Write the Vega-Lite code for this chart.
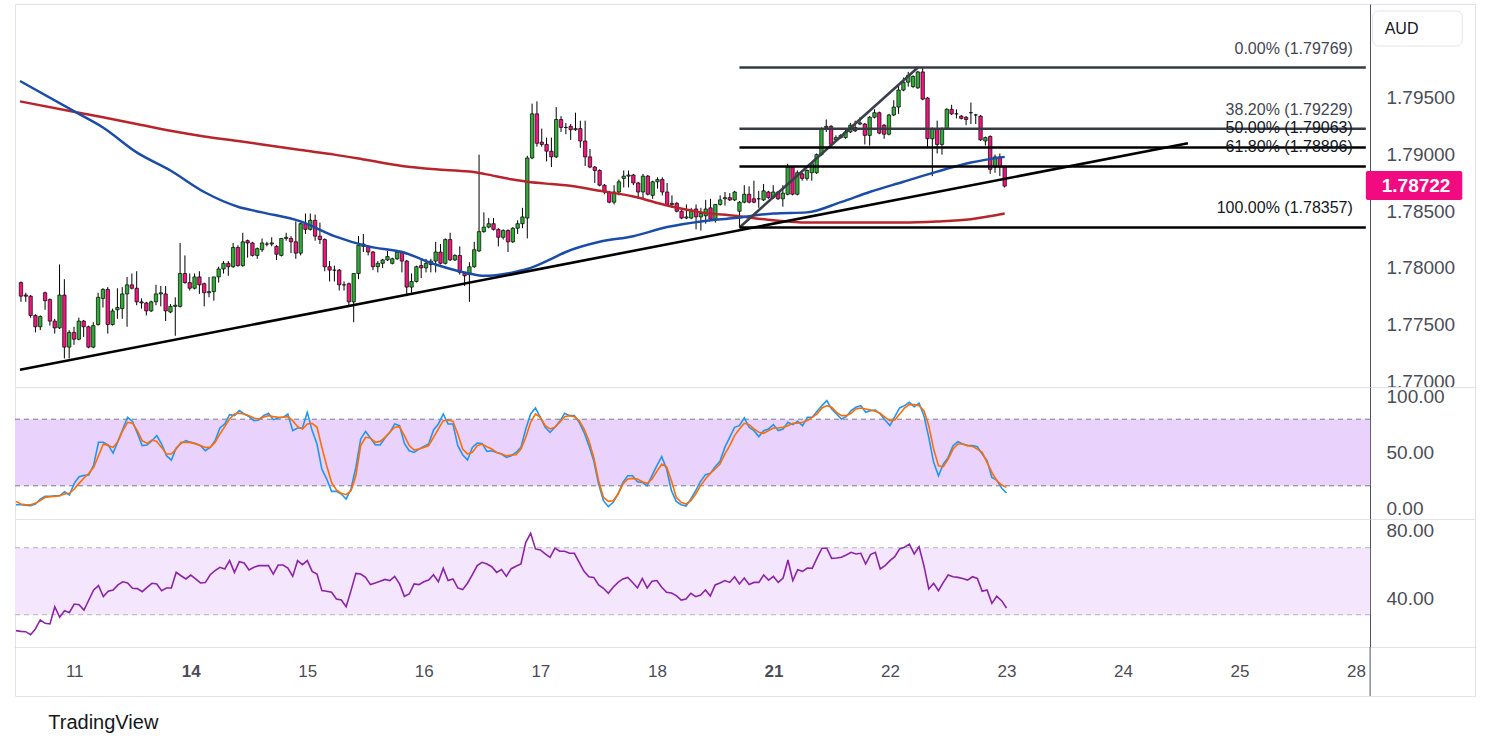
{
  "$schema": "https://vega.github.io/schema/vega-lite/v6.json",
  "background": "white",
  "padding": {"left": 12, "top": 3, "right": 10, "bottom": 10},
  "title": {"text": "TradingView", "orient": "bottom", "anchor": "start", "dx": 36, "offset": 16, "fontSize": 20, "fontWeight": "normal", "color": "#131722", "font": "Liberation Sans"},
  "spacing": 0,
  "bounds": "flush",
  "resolve": {"scale": {"x": "independent", "y": "independent"}},
  "datasets": {
    "c": [
      {"i":0,"o":1.7787,"h":1.7788,"l":1.7770,"c":1.7775,"k":3,"d":6,"r":20.5},
      {"i":1,"o":1.7776,"h":1.7778,"l":1.7770,"c":1.7775,"k":3,"d":3.6,"r":20.1},
      {"i":2,"o":1.7775,"h":1.7776,"l":1.7756,"c":1.7758,"k":2.5,"d":3,"r":19.9},
      {"i":3,"o":1.7758,"h":1.7759,"l":1.7743,"c":1.7748,"k":2,"d":3,"r":18.1},
      {"i":4,"o":1.7748,"h":1.7758,"l":1.7745,"c":1.7757,"k":3.5,"d":4.2,"r":21.5},
      {"i":5,"o":1.7778,"h":1.7779,"l":1.7763,"c":1.7771,"k":8,"d":6.6,"r":26.9},
      {"i":6,"o":1.7772,"h":1.7773,"l":1.7749,"c":1.7753,"k":10.5,"d":9.6,"r":24.9},
      {"i":7,"o":1.7753,"h":1.7755,"l":1.7742,"c":1.7747,"k":10.5,"d":10.2,"r":24.5},
      {"i":8,"o":1.7747,"h":1.7803,"l":1.7746,"c":1.7776,"k":11,"d":10.5,"r":34.8},
      {"i":9,"o":1.7776,"h":1.7790,"l":1.7720,"c":1.7730,"k":11,"d":11.1,"r":28.5},
      {"i":10,"o":1.7730,"h":1.7745,"l":1.7720,"c":1.7743,"k":14.7,"d":12.6,"r":32.4},
      {"i":11,"o":1.7743,"h":1.7748,"l":1.7732,"c":1.7737,"k":11.7,"d":13.2,"r":31.4},
      {"i":12,"o":1.7737,"h":1.7756,"l":1.7736,"c":1.7753,"k":22.2,"d":17.1,"r":36.4},
      {"i":13,"o":1.7753,"h":1.7754,"l":1.7739,"c":1.7748,"k":28.2,"d":22.2,"r":36},
      {"i":14,"o":1.7748,"h":1.7749,"l":1.7729,"c":1.7730,"k":29.4,"d":27,"r":32.8},
      {"i":15,"o":1.7730,"h":1.7752,"l":1.7729,"c":1.7749,"k":29.7,"d":31.2,"r":38.8},
      {"i":16,"o":1.7750,"h":1.7778,"l":1.7749,"c":1.7774,"k":38.7,"d":36.6,"r":44.8},
      {"i":17,"o":1.7773,"h":1.7782,"l":1.7765,"c":1.7781,"k":59.2,"d":47.1,"r":47.4},
      {"i":18,"o":1.7781,"h":1.7783,"l":1.7742,"c":1.7750,"k":59.2,"d":57.6,"r":40.8},
      {"i":19,"o":1.7750,"h":1.7764,"l":1.7749,"c":1.7762,"k":56.7,"d":56.2,"r":44},
      {"i":20,"o":1.7763,"h":1.7782,"l":1.7755,"c":1.7765,"k":49.5,"d":54.6,"r":44.8},
      {"i":21,"o":1.7764,"h":1.7783,"l":1.7755,"c":1.7777,"k":60,"d":60,"r":47.8},
      {"i":22,"o":1.7777,"h":1.7792,"l":1.7748,"c":1.7785,"k":71.2,"d":69.7,"r":49.7},
      {"i":23,"o":1.7785,"h":1.7795,"l":1.7781,"c":1.7782,"k":81.7,"d":77.2,"r":49},
      {"i":24,"o":1.7782,"h":1.7797,"l":1.7767,"c":1.7770,"k":78,"d":76.3,"r":45.8},
      {"i":25,"o":1.7770,"h":1.7773,"l":1.7764,"c":1.7769,"k":67.3,"d":69.7,"r":45.6},
      {"i":26,"o":1.7769,"h":1.7770,"l":1.7758,"c":1.7762,"k":56.2,"d":60.6,"r":43.8},
      {"i":27,"o":1.7762,"h":1.7771,"l":1.7761,"c":1.7770,"k":56.7,"d":58.2,"r":46.4},
      {"i":28,"o":1.7770,"h":1.7785,"l":1.7767,"c":1.7777,"k":60.6,"d":61.2,"r":48.8},
      {"i":29,"o":1.7777,"h":1.7784,"l":1.7766,"c":1.7778,"k":65.2,"d":60,"r":48.4},
      {"i":30,"o":1.7777,"h":1.7784,"l":1.7753,"c":1.7762,"k":57.6,"d":54.6,"r":44.4},
      {"i":31,"o":1.7761,"h":1.7768,"l":1.7760,"c":1.7766,"k":47.1,"d":48.6,"r":46},
      {"i":32,"o":1.7766,"h":1.7774,"l":1.7740,"c":1.7767,"k":43.2,"d":48.6,"r":46},
      {"i":33,"o":1.7766,"h":1.7822,"l":1.7765,"c":1.7795,"k":54,"d":53.1,"r":55.3},
      {"i":34,"o":1.7795,"h":1.7811,"l":1.7786,"c":1.7787,"k":58.2,"d":59.1,"r":53.3},
      {"i":35,"o":1.7787,"h":1.7795,"l":1.7780,"c":1.7782,"k":60.6,"d":59.1,"r":51.4},
      {"i":36,"o":1.7782,"h":1.7795,"l":1.7781,"c":1.7792,"k":59.1,"d":59.1,"r":53.7},
      {"i":37,"o":1.7792,"h":1.7797,"l":1.7777,"c":1.7785,"k":58.2,"d":57.6,"r":51.4},
      {"i":38,"o":1.7786,"h":1.7787,"l":1.7766,"c":1.7778,"k":56.2,"d":56.2,"r":49},
      {"i":39,"o":1.7778,"h":1.7792,"l":1.7774,"c":1.7779,"k":51.6,"d":54.6,"r":49.2},
      {"i":40,"o":1.7779,"h":1.7792,"l":1.7771,"c":1.7792,"k":54.6,"d":54.6,"r":53.9},
      {"i":41,"o":1.7792,"h":1.7801,"l":1.7787,"c":1.7799,"k":60.6,"d":59.1,"r":56.3},
      {"i":42,"o":1.7799,"h":1.7806,"l":1.7795,"c":1.7804,"k":72.1,"d":66.7,"r":58.3},
      {"i":43,"o":1.7804,"h":1.7806,"l":1.7793,"c":1.7801,"k":75.7,"d":73.3,"r":57.3},
      {"i":44,"o":1.7801,"h":1.7822,"l":1.7800,"c":1.7818,"k":84.1,"d":80.2,"r":62.3},
      {"i":45,"o":1.7818,"h":1.7820,"l":1.7801,"c":1.7802,"k":83.2,"d":84.7,"r":55.3},
      {"i":46,"o":1.7802,"h":1.7831,"l":1.7801,"c":1.7823,"k":87.7,"d":85.3,"r":61.7},
      {"i":47,"o":1.7824,"h":1.7825,"l":1.7809,"c":1.7822,"k":84.7,"d":84.7,"r":60.9},
      {"i":48,"o":1.7822,"h":1.7823,"l":1.7810,"c":1.7811,"k":82.3,"d":83.2,"r":56.7},
      {"i":49,"o":1.7811,"h":1.7818,"l":1.7808,"c":1.7817,"k":78.7,"d":81.1,"r":58.3},
      {"i":50,"o":1.7816,"h":1.7826,"l":1.7814,"c":1.7822,"k":79.3,"d":80.2,"r":59.3},
      {"i":51,"o":1.7821,"h":1.7823,"l":1.7819,"c":1.7821,"k":83.2,"d":81.7,"r":59.3},
      {"i":52,"o":1.7821,"h":1.7827,"l":1.7819,"c":1.7822,"k":85.3,"d":83.2,"r":59.3},
      {"i":53,"o":1.7819,"h":1.7820,"l":1.7807,"c":1.7812,"k":79.6,"d":82.3,"r":54.3},
      {"i":54,"o":1.7811,"h":1.7826,"l":1.7810,"c":1.7826,"k":81.1,"d":81.7,"r":59.7},
      {"i":55,"o":1.7826,"h":1.7831,"l":1.7824,"c":1.7827,"k":81.7,"d":81.7,"r":59.7},
      {"i":56,"o":1.7826,"h":1.7828,"l":1.7813,"c":1.7823,"k":84.7,"d":82.3,"r":57.9},
      {"i":57,"o":1.7823,"h":1.7841,"l":1.7808,"c":1.7813,"k":69.7,"d":78.7,"r":52.9},
      {"i":58,"o":1.7813,"h":1.7840,"l":1.7811,"c":1.7839,"k":72.1,"d":73.3,"r":62.3},
      {"i":59,"o":1.7839,"h":1.7848,"l":1.7830,"c":1.7834,"k":72.1,"d":71.2,"r":59.9},
      {"i":60,"o":1.7834,"h":1.7848,"l":1.7833,"c":1.7842,"k":86.2,"d":75.7,"r":62.3},
      {"i":61,"o":1.7842,"h":1.7847,"l":1.7824,"c":1.7828,"k":69.7,"d":76.3,"r":55.9},
      {"i":62,"o":1.7828,"h":1.7840,"l":1.7821,"c":1.7825,"k":57.6,"d":72.7,"r":54.3},
      {"i":63,"o":1.7825,"h":1.7826,"l":1.7797,"c":1.7801,"k":35.1,"d":54.6,"r":44.4},
      {"i":64,"o":1.7801,"h":1.7806,"l":1.7788,"c":1.7798,"k":26.1,"d":38.1,"r":44},
      {"i":65,"o":1.7798,"h":1.7802,"l":1.7788,"c":1.7798,"k":15,"d":23.1,"r":43.4},
      {"i":66,"o":1.7798,"h":1.7799,"l":1.7780,"c":1.7785,"k":15,"d":16.2,"r":39.4},
      {"i":67,"o":1.7785,"h":1.7788,"l":1.7780,"c":1.7785,"k":12.6,"d":13.2,"r":38.8},
      {"i":68,"o":1.7786,"h":1.7787,"l":1.7767,"c":1.7770,"k":8.1,"d":12,"r":34.8},
      {"i":69,"o":1.7770,"h":1.7795,"l":1.7752,"c":1.7795,"k":17.1,"d":15.6,"r":44.4},
      {"i":70,"o":1.7795,"h":1.7828,"l":1.7790,"c":1.7820,"k":36.6,"d":29.1,"r":54.7},
      {"i":71,"o":1.7821,"h":1.7830,"l":1.7814,"c":1.7819,"k":62.1,"d":56.2,"r":54.3},
      {"i":72,"o":1.7819,"h":1.7820,"l":1.7811,"c":1.7814,"k":69,"d":63.7,"r":52.3},
      {"i":73,"o":1.7814,"h":1.7815,"l":1.7798,"c":1.7801,"k":63.1,"d":63.1,"r":48},
      {"i":74,"o":1.7801,"h":1.7806,"l":1.7796,"c":1.7804,"k":57.1,"d":59.1,"r":49},
      {"i":75,"o":1.7804,"h":1.7808,"l":1.7800,"c":1.7807,"k":56.8,"d":60,"r":50},
      {"i":76,"o":1.7807,"h":1.7815,"l":1.7806,"c":1.7810,"k":63.1,"d":63.7,"r":51.1},
      {"i":77,"o":1.7804,"h":1.7809,"l":1.7803,"c":1.7808,"k":68.2,"d":68.2,"r":50.4},
      {"i":78,"o":1.7808,"h":1.7815,"l":1.7807,"c":1.7814,"k":75.7,"d":72.7,"r":52.9},
      {"i":79,"o":1.7814,"h":1.7815,"l":1.7796,"c":1.7806,"k":74.2,"d":73.3,"r":48.4},
      {"i":80,"o":1.7806,"h":1.7807,"l":1.7775,"c":1.7783,"k":58.2,"d":65.2,"r":41},
      {"i":81,"o":1.7783,"h":1.7795,"l":1.7778,"c":1.7788,"k":51.6,"d":56.2,"r":42.4},
      {"i":82,"o":1.7788,"h":1.7802,"l":1.7787,"c":1.7801,"k":50.1,"d":52.2,"r":48.4},
      {"i":83,"o":1.7802,"h":1.7807,"l":1.7791,"c":1.7800,"k":53.1,"d":53.1,"r":48},
      {"i":84,"o":1.7800,"h":1.7808,"l":1.7796,"c":1.7804,"k":55.5,"d":54.6,"r":49.7},
      {"i":85,"o":1.7803,"h":1.7808,"l":1.7796,"c":1.7806,"k":57.6,"d":56.2,"r":50.7},
      {"i":86,"o":1.7806,"h":1.7823,"l":1.7796,"c":1.7814,"k":70.3,"d":63.7,"r":53.9},
      {"i":87,"o":1.7814,"h":1.7821,"l":1.7803,"c":1.7804,"k":75.7,"d":71.2,"r":49.7},
      {"i":88,"o":1.7804,"h":1.7826,"l":1.7803,"c":1.7825,"k":84.7,"d":78.7,"r":57.7},
      {"i":89,"o":1.7825,"h":1.7831,"l":1.7806,"c":1.7807,"k":75.7,"d":79.3,"r":50.4},
      {"i":90,"o":1.7807,"h":1.7812,"l":1.7806,"c":1.7811,"k":75.7,"d":78.1,"r":51.4},
      {"i":91,"o":1.7811,"h":1.7819,"l":1.7794,"c":1.7796,"k":56.2,"d":66.7,"r":46},
      {"i":92,"o":1.7795,"h":1.7796,"l":1.7784,"c":1.7793,"k":48,"d":53.1,"r":45},
      {"i":93,"o":1.7794,"h":1.7805,"l":1.7770,"c":1.7801,"k":43.2,"d":48.6,"r":48.8},
      {"i":94,"o":1.7801,"h":1.7823,"l":1.7800,"c":1.7816,"k":54.6,"d":50.1,"r":53.9},
      {"i":95,"o":1.7815,"h":1.7900,"l":1.7814,"c":1.7832,"k":58.5,"d":56.2,"r":59.3},
      {"i":96,"o":1.7832,"h":1.7849,"l":1.7831,"c":1.7836,"k":58.2,"d":57.6,"r":61.3},
      {"i":97,"o":1.7836,"h":1.7844,"l":1.7835,"c":1.7839,"k":51,"d":55.2,"r":60.3},
      {"i":98,"o":1.7839,"h":1.7844,"l":1.7833,"c":1.7834,"k":51.6,"d":53.1,"r":58.7},
      {"i":99,"o":1.7834,"h":1.7835,"l":1.7819,"c":1.7827,"k":50.1,"d":50.1,"r":55.3},
      {"i":100,"o":1.7827,"h":1.7834,"l":1.7825,"c":1.7833,"k":48.6,"d":48.6,"r":57},
      {"i":101,"o":1.7833,"h":1.7834,"l":1.7814,"c":1.7823,"k":45.6,"d":47.1,"r":52.9},
      {"i":102,"o":1.7823,"h":1.7836,"l":1.7822,"c":1.7835,"k":47.1,"d":47.7,"r":57.5},
      {"i":103,"o":1.7835,"h":1.7842,"l":1.7830,"c":1.7839,"k":50,"d":48,"r":59},
      {"i":104,"o":1.7839,"h":1.7853,"l":1.7835,"c":1.7845,"k":54.6,"d":53.1,"r":60.3},
      {"i":105,"o":1.7844,"h":1.7899,"l":1.7826,"c":1.7897,"k":71.2,"d":63.7,"r":73.2},
      {"i":106,"o":1.7897,"h":1.7945,"l":1.7896,"c":1.7936,"k":84.7,"d":77.2,"r":78.6},
      {"i":107,"o":1.7936,"h":1.7947,"l":1.7907,"c":1.7910,"k":90.1,"d":84.7,"r":69.3},
      {"i":108,"o":1.7911,"h":1.7923,"l":1.7907,"c":1.7909,"k":81.7,"d":81.7,"r":68.7},
      {"i":109,"o":1.7909,"h":1.7915,"l":1.7894,"c":1.7903,"k":72.7,"d":74.2,"r":66.3},
      {"i":110,"o":1.7903,"h":1.7915,"l":1.7889,"c":1.7898,"k":68.2,"d":71.2,"r":64.3},
      {"i":111,"o":1.7898,"h":1.7942,"l":1.7897,"c":1.7931,"k":72.7,"d":72.7,"r":69.8},
      {"i":112,"o":1.7931,"h":1.7934,"l":1.7920,"c":1.7924,"k":78.1,"d":77.2,"r":67.9},
      {"i":113,"o":1.7924,"h":1.7928,"l":1.7918,"c":1.7924,"k":85.3,"d":82.3,"r":67.9},
      {"i":114,"o":1.7925,"h":1.7927,"l":1.7913,"c":1.7922,"k":83.2,"d":83.2,"r":66.7},
      {"i":115,"o":1.7922,"h":1.7937,"l":1.7921,"c":1.7923,"k":83.2,"d":82.3,"r":66.7},
      {"i":116,"o":1.7923,"h":1.7930,"l":1.7906,"c":1.7912,"k":77.2,"d":78.7,"r":61.3},
      {"i":117,"o":1.7912,"h":1.7930,"l":1.7890,"c":1.7898,"k":68.2,"d":71.2,"r":55.9},
      {"i":118,"o":1.7898,"h":1.7905,"l":1.7888,"c":1.7889,"k":56.2,"d":60.6,"r":52.7},
      {"i":119,"o":1.7889,"h":1.7890,"l":1.7875,"c":1.7886,"k":42.6,"d":45.6,"r":52.3},
      {"i":120,"o":1.7886,"h":1.7887,"l":1.7872,"c":1.7873,"k":21.6,"d":24.6,"r":47.8},
      {"i":121,"o":1.7873,"h":1.7874,"l":1.7865,"c":1.7867,"k":6.6,"d":9.6,"r":45.8},
      {"i":122,"o":1.7867,"h":1.7868,"l":1.7857,"c":1.7858,"k":1.2,"d":6,"r":42.8},
      {"i":123,"o":1.7858,"h":1.7873,"l":1.7856,"c":1.7867,"k":5.1,"d":6.6,"r":46.4},
      {"i":124,"o":1.7867,"h":1.7878,"l":1.7864,"c":1.7876,"k":12.6,"d":12.6,"r":49.3},
      {"i":125,"o":1.7879,"h":1.7886,"l":1.7871,"c":1.7881,"k":23.1,"d":21.6,"r":51.4},
      {"i":126,"o":1.7881,"h":1.7886,"l":1.7871,"c":1.7882,"k":29.1,"d":26.1,"r":52.3},
      {"i":127,"o":1.7882,"h":1.7883,"l":1.7873,"c":1.7875,"k":29.1,"d":26.7,"r":49.3},
      {"i":128,"o":1.7875,"h":1.7876,"l":1.7861,"c":1.7867,"k":23.7,"d":26.1,"r":46},
      {"i":129,"o":1.7867,"h":1.7883,"l":1.7861,"c":1.7881,"k":23.1,"d":23.7,"r":51.7},
      {"i":130,"o":1.7881,"h":1.7882,"l":1.7864,"c":1.7865,"k":20.1,"d":22.2,"r":46},
      {"i":131,"o":1.7864,"h":1.7877,"l":1.7861,"c":1.7876,"k":29.1,"d":26.1,"r":50},
      {"i":132,"o":1.7876,"h":1.7880,"l":1.7870,"c":1.7878,"k":38.1,"d":33,"r":50.4},
      {"i":133,"o":1.7878,"h":1.7880,"l":1.7864,"c":1.7867,"k":46.2,"d":39.6,"r":46.4},
      {"i":134,"o":1.7867,"h":1.7875,"l":1.7855,"c":1.7856,"k":35.1,"d":37.2,"r":43.4},
      {"i":135,"o":1.7856,"h":1.7864,"l":1.7853,"c":1.7857,"k":15.6,"d":24.6,"r":43},
      {"i":136,"o":1.7857,"h":1.7858,"l":1.7849,"c":1.7850,"k":6,"d":9.6,"r":41.4},
      {"i":137,"o":1.7850,"h":1.7851,"l":1.7843,"c":1.7844,"k":3,"d":5.1,"r":38.8},
      {"i":138,"o":1.7844,"h":1.7856,"l":1.7843,"c":1.7845,"k":1.8,"d":3.6,"r":39.4},
      {"i":139,"o":1.7844,"h":1.7853,"l":1.7843,"c":1.7851,"k":8.1,"d":6.6,"r":42.8},
      {"i":140,"o":1.7852,"h":1.7856,"l":1.7834,"c":1.7845,"k":15.6,"d":12.6,"r":40.8},
      {"i":141,"o":1.7845,"h":1.7853,"l":1.7833,"c":1.7848,"k":24,"d":20.1,"r":41.8},
      {"i":142,"o":1.7846,"h":1.7860,"l":1.7839,"c":1.7852,"k":30,"d":26.1,"r":44.8},
      {"i":143,"o":1.7853,"h":1.7861,"l":1.7842,"c":1.7843,"k":31.2,"d":31.2,"r":41.2},
      {"i":144,"o":1.7843,"h":1.7856,"l":1.7840,"c":1.7856,"k":37.2,"d":35.1,"r":47.8},
      {"i":145,"o":1.7856,"h":1.7864,"l":1.7855,"c":1.7860,"k":42,"d":39.6,"r":49},
      {"i":146,"o":1.7861,"h":1.7867,"l":1.7855,"c":1.7862,"k":54.6,"d":48.6,"r":50.4},
      {"i":147,"o":1.7862,"h":1.7866,"l":1.7859,"c":1.7860,"k":63.7,"d":56.2,"r":49.3},
      {"i":148,"o":1.7860,"h":1.7868,"l":1.7859,"c":1.7867,"k":72.7,"d":65.2,"r":52.7},
      {"i":149,"o":1.7850,"h":1.7859,"l":1.7836,"c":1.7858,"k":74.2,"d":71.2,"r":48.4},
      {"i":150,"o":1.7858,"h":1.7873,"l":1.7857,"c":1.7865,"k":81.1,"d":76.3,"r":51.9},
      {"i":151,"o":1.7865,"h":1.7872,"l":1.7857,"c":1.7858,"k":72.7,"d":75.1,"r":48},
      {"i":152,"o":1.7861,"h":1.7877,"l":1.7857,"c":1.7858,"k":69.7,"d":71.2,"r":49.3},
      {"i":153,"o":1.7861,"h":1.7868,"l":1.7853,"c":1.7861,"k":64.3,"d":68.2,"r":49.3},
      {"i":154,"o":1.7860,"h":1.7874,"l":1.7859,"c":1.7868,"k":69.7,"d":67.3,"r":53.7},
      {"i":155,"o":1.7867,"h":1.7868,"l":1.7861,"c":1.7862,"k":71.2,"d":69.7,"r":50.7},
      {"i":156,"o":1.7862,"h":1.7873,"l":1.7861,"c":1.7867,"k":75.1,"d":72.1,"r":52.9},
      {"i":157,"o":1.7867,"h":1.7868,"l":1.7860,"c":1.7861,"k":69.7,"d":72.1,"r":49.3},
      {"i":158,"o":1.7861,"h":1.7873,"l":1.7854,"c":1.7866,"k":71.2,"d":72.7,"r":51.9},
      {"i":159,"o":1.7865,"h":1.7892,"l":1.7864,"c":1.7889,"k":77.2,"d":74.2,"r":62.7},
      {"i":160,"o":1.7889,"h":1.7890,"l":1.7864,"c":1.7865,"k":75.1,"d":76.3,"r":50.4},
      {"i":161,"o":1.7865,"h":1.7886,"l":1.7864,"c":1.7884,"k":78.1,"d":76.3,"r":56.9},
      {"i":162,"o":1.7883,"h":1.7884,"l":1.7877,"c":1.7879,"k":74.2,"d":77.2,"r":55.9},
      {"i":163,"o":1.7879,"h":1.7887,"l":1.7877,"c":1.7886,"k":81.7,"d":78.7,"r":57.9},
      {"i":164,"o":1.7884,"h":1.7893,"l":1.7877,"c":1.7892,"k":81.7,"d":81.7,"r":57.7},
      {"i":165,"o":1.7884,"h":1.7901,"l":1.7883,"c":1.7900,"k":87.1,"d":84.7,"r":63.9},
      {"i":166,"o":1.7900,"h":1.7924,"l":1.7899,"c":1.7923,"k":92.2,"d":90.1,"r":69.7},
      {"i":167,"o":1.7924,"h":1.7931,"l":1.7920,"c":1.7925,"k":96.7,"d":92.2,"r":69.7},
      {"i":168,"o":1.7925,"h":1.7926,"l":1.7908,"c":1.7909,"k":89.2,"d":90.7,"r":63.7},
      {"i":169,"o":1.7913,"h":1.7917,"l":1.7912,"c":1.7915,"k":84.7,"d":86.2,"r":63.9},
      {"i":170,"o":1.7915,"h":1.7918,"l":1.7914,"c":1.7917,"k":80.2,"d":83.2,"r":64.3},
      {"i":171,"o":1.7915,"h":1.7923,"l":1.7914,"c":1.7920,"k":82.3,"d":83.2,"r":65.7},
      {"i":172,"o":1.7920,"h":1.7928,"l":1.7919,"c":1.7926,"k":87.7,"d":85.3,"r":67.3},
      {"i":173,"o":1.7924,"h":1.7930,"l":1.7920,"c":1.7921,"k":90.7,"d":89.2,"r":66.3},
      {"i":174,"o":1.7927,"h":1.7933,"l":1.7926,"c":1.7928,"k":92.2,"d":90.1,"r":66.7},
      {"i":175,"o":1.7927,"h":1.7928,"l":1.7909,"c":1.7917,"k":86.2,"d":89.2,"r":60.3},
      {"i":176,"o":1.7917,"h":1.7934,"l":1.7908,"c":1.7933,"k":87.7,"d":88.3,"r":65.9},
      {"i":177,"o":1.7933,"h":1.7940,"l":1.7932,"c":1.7937,"k":88.3,"d":87.1,"r":67.3},
      {"i":178,"o":1.7937,"h":1.7938,"l":1.7918,"c":1.7919,"k":84.7,"d":85.3,"r":57.3},
      {"i":179,"o":1.7926,"h":1.7927,"l":1.7914,"c":1.7918,"k":79.3,"d":81.7,"r":59.3},
      {"i":180,"o":1.7918,"h":1.7936,"l":1.7917,"c":1.7935,"k":74.2,"d":78.7,"r":62.3},
      {"i":181,"o":1.7935,"h":1.7948,"l":1.7934,"c":1.7942,"k":82.3,"d":79.3,"r":64.7},
      {"i":182,"o":1.7942,"h":1.7962,"l":1.7936,"c":1.7957,"k":90.1,"d":84.7,"r":69.3},
      {"i":183,"o":1.7957,"h":1.7968,"l":1.7956,"c":1.7964,"k":92.2,"d":90.1,"r":70.3},
      {"i":184,"o":1.7964,"h":1.7973,"l":1.7960,"c":1.7970,"k":95.2,"d":93.1,"r":72.2},
      {"i":185,"o":1.7960,"h":1.7970,"l":1.7959,"c":1.7969,"k":91.3,"d":93.1,"r":66.3},
      {"i":186,"o":1.7959,"h":1.7974,"l":1.7958,"c":1.7973,"k":94.3,"d":92.2,"r":70.6},
      {"i":187,"o":1.7973,"h":1.7977,"l":1.7948,"c":1.7949,"k":83.2,"d":87.7,"r":59.3},
      {"i":188,"o":1.7950,"h":1.7951,"l":1.7906,"c":1.7914,"k":63.7,"d":74.2,"r":45.4},
      {"i":189,"o":1.7914,"h":1.7924,"l":1.7881,"c":1.7923,"k":41.1,"d":53.1,"r":48.8},
      {"i":190,"o":1.7923,"h":1.7930,"l":1.7901,"c":1.7909,"k":29.1,"d":38.1,"r":44.4},
      {"i":191,"o":1.7909,"h":1.7924,"l":1.7900,"c":1.7923,"k":39.6,"d":37.2,"r":49.3},
      {"i":192,"o":1.7923,"h":1.7941,"l":1.7922,"c":1.7940,"k":45.6,"d":44.1,"r":53.7},
      {"i":193,"o":1.7940,"h":1.7944,"l":1.7935,"c":1.7936,"k":56.2,"d":53.1,"r":52.7},
      {"i":194,"o":1.7936,"h":1.7940,"l":1.7932,"c":1.7936,"k":59.8,"d":57.6,"r":52.3},
      {"i":195,"o":1.7934,"h":1.7935,"l":1.7931,"c":1.7932,"k":57.6,"d":57.6,"r":51.7},
      {"i":196,"o":1.7933,"h":1.7934,"l":1.7926,"c":1.7931,"k":56.2,"d":56.2,"r":50.7},
      {"i":197,"o":1.7937,"h":1.7946,"l":1.7927,"c":1.7937,"k":56.2,"d":55.5,"r":52.7},
      {"i":198,"o":1.7935,"h":1.7936,"l":1.7927,"c":1.7935,"k":55.2,"d":53.1,"r":51.7},
      {"i":199,"o":1.7934,"h":1.7935,"l":1.7912,"c":1.7913,"k":48.6,"d":50.1,"r":44},
      {"i":200,"o":1.7912,"h":1.7916,"l":1.7908,"c":1.7915,"k":42.6,"d":41.1,"r":44.8},
      {"i":201,"o":1.7916,"h":1.7917,"l":1.7883,"c":1.7887,"k":27.6,"d":32.1,"r":36.8},
      {"i":202,"o":1.7889,"h":1.7900,"l":1.7884,"c":1.7898,"k":25.2,"d":24.6,"r":41},
      {"i":203,"o":1.7898,"h":1.7901,"l":1.7881,"c":1.7889,"k":18,"d":20.7,"r":38.4},
      {"i":204,"o":1.7889,"h":1.7890,"l":1.7871,"c":1.78722,"k":13.5,"d":18.6,"r":34}
    ],
    "ma": [
      {"i":-0.2,"a":1.7965,"b":1.7947},{"i":12,"a":1.7936,"b":1.7937},{"i":17,"a":1.7924,"b":1.7933},
      {"i":24,"a":1.7902,"b":1.7927},{"i":31,"a":1.7886,"b":1.7921},{"i":38,"a":1.7867,"b":1.7916},
      {"i":45,"a":1.7854,"b":1.7912},{"i":50,"a":1.7849,"b":1.7909},{"i":58,"a":1.7841,"b":1.7904},
      {"i":65,"a":1.7828,"b":1.7900},{"i":72,"a":1.7819,"b":1.7895},{"i":79,"a":1.7814,"b":1.7890},
      {"i":86,"a":1.7803,"b":1.7887},{"i":93,"a":1.7795,"b":1.7885},{"i":96,"a":1.7793,"b":1.7883},
      {"i":102,"a":1.7796,"b":1.7878},{"i":105,"a":1.7799,"b":1.7876},{"i":110,"a":1.7808,"b":1.7874},
      {"i":113,"a":1.7814,"b":1.7873},{"i":120,"a":1.7823,"b":1.7868},{"i":127,"a":1.7828,"b":1.7863},
      {"i":134,"a":1.7836,"b":1.7855},{"i":141,"a":1.7841,"b":1.7849},{"i":148,"a":1.7844,"b":1.7846},
      {"i":156,"a":1.7848,"b":1.7842},{"i":163,"a":1.7849,"b":1.7840},{"i":170,"a":1.7858,"b":1.7840},
      {"i":176,"a":1.7867,"b":1.7840},{"i":183,"a":1.7876,"b":1.7840},{"i":190,"a":1.7885,"b":1.7841},
      {"i":197,"a":1.7893,"b":1.7843},{"i":204,"a":1.7898,"b":1.7848}
    ],
    "tl": [
      {"t":"a","i":-0.2,"p":1.7710},{"t":"a","i":242,"p":1.7910},
      {"t":"b","i":149,"p":1.78357},{"t":"b","i":186,"p":1.79769}
    ],
    "fib": [
      {"p":1.79769,"lbl":"0.00% (1.79769)"},
      {"p":1.79229,"lbl":"38.20% (1.79229)"},
      {"p":1.79063,"lbl":"50.00% (1.79063)"},
      {"p":1.78896,"lbl":"61.80% (1.78896)"},
      {"p":1.78357,"lbl":"100.00% (1.78357)"}
    ],
    "last": [{"i":204,"p":1.78722}]
  },
  "vconcat": [
    {
      "width": 1460,
      "height": 383,
      "layer": [
        {
          "data": {"name": "c"},
          "mark": {"type": "rule", "color": "#000000", "strokeWidth": 1},
          "encoding": {
            "x": {"field": "i", "type": "quantitative", "scale": {"domain": [-0.2, 300.5], "nice": false, "zero": false}, "axis": null},
            "y": {"field": "l", "type": "quantitative", "scale": {"domain": [1.76948, 1.8033], "nice": false, "zero": false}, "axis": {"orient": "right", "offset": -105, "values": [1.77, 1.775, 1.78, 1.785, 1.79, 1.795], "format": ".5f", "title": null, "grid": false, "ticks": false, "domain": true, "domainColor": "#50535e", "labelPadding": 16, "labelFontSize": 19, "labelColor": "#4a4d57", "labelBaseline": "middle", "labelAlign": "left"}},
            "y2": {"field": "h"}
          }
        },
        {
          "data": {"name": "c"},
          "mark": {"type": "bar", "width": 3.4, "stroke": "#000000", "strokeWidth": 0.7},
          "encoding": {
            "x": {"field": "i", "type": "quantitative", "scale": {"domain": [-0.2, 300.5], "nice": false, "zero": false}, "axis": null},
            "y": {"field": "o", "type": "quantitative", "scale": {"domain": [1.76948, 1.8033], "nice": false, "zero": false}, "axis": {"orient": "right", "offset": -105, "values": [1.77, 1.775, 1.78, 1.785, 1.79, 1.795], "format": ".5f", "title": null, "grid": false, "ticks": false, "domain": true, "domainColor": "#50535e", "labelPadding": 16, "labelFontSize": 19, "labelColor": "#4a4d57", "labelBaseline": "middle", "labelAlign": "left"}},
            "y2": {"field": "c"},
            "fill": {"condition": {"test": "datum.c >= datum.o", "value": "#2fae35"}, "value": "#f5147f"}
          }
        },
        {
          "data": {"name": "ma"},
          "mark": {"type": "line", "color": "#b8242b", "strokeWidth": 2.5, "interpolate": "monotone"},
          "encoding": {
            "x": {"field": "i", "type": "quantitative", "scale": {"domain": [-0.2, 300.5], "nice": false, "zero": false}, "axis": null},
            "y": {"field": "b", "type": "quantitative", "scale": {"domain": [1.76948, 1.8033], "nice": false, "zero": false}, "axis": {"orient": "right", "offset": -105, "values": [1.77, 1.775, 1.78, 1.785, 1.79, 1.795], "format": ".5f", "title": null, "grid": false, "ticks": false, "domain": true, "domainColor": "#50535e", "labelPadding": 16, "labelFontSize": 19, "labelColor": "#4a4d57", "labelBaseline": "middle", "labelAlign": "left"}}
          }
        },
        {
          "data": {"name": "ma"},
          "mark": {"type": "line", "color": "#1b4ca8", "strokeWidth": 2.5, "interpolate": "monotone"},
          "encoding": {
            "x": {"field": "i", "type": "quantitative", "scale": {"domain": [-0.2, 300.5], "nice": false, "zero": false}, "axis": null},
            "y": {"field": "a", "type": "quantitative", "scale": {"domain": [1.76948, 1.8033], "nice": false, "zero": false}, "axis": {"orient": "right", "offset": -105, "values": [1.77, 1.775, 1.78, 1.785, 1.79, 1.795], "format": ".5f", "title": null, "grid": false, "ticks": false, "domain": true, "domainColor": "#50535e", "labelPadding": 16, "labelFontSize": 19, "labelColor": "#4a4d57", "labelBaseline": "middle", "labelAlign": "left"}}
          }
        },
        {
          "data": {"name": "tl"},
          "mark": {"type": "line", "strokeWidth": 2.6},
          "encoding": {
            "x": {"field": "i", "type": "quantitative", "scale": {"domain": [-0.2, 300.5], "nice": false, "zero": false}, "axis": null},
            "y": {"field": "p", "type": "quantitative", "scale": {"domain": [1.76948, 1.8033], "nice": false, "zero": false}, "axis": {"orient": "right", "offset": -105, "values": [1.77, 1.775, 1.78, 1.785, 1.79, 1.795], "format": ".5f", "title": null, "grid": false, "ticks": false, "domain": true, "domainColor": "#50535e", "labelPadding": 16, "labelFontSize": 19, "labelColor": "#4a4d57", "labelBaseline": "middle", "labelAlign": "left"}},
            "detail": {"field": "t"},
            "color": {"field": "t", "type": "nominal", "scale": {"domain": ["a", "b"], "range": ["#000000", "#3b3f4a"]}, "legend": null}
          }
        },
        {
          "data": {"name": "fib"},
          "mark": {"type": "rule", "strokeWidth": 2.5},
          "encoding": {
            "x": {"datum": 149, "type": "quantitative", "scale": {"domain": [-0.2, 300.5], "nice": false, "zero": false}, "axis": null},
            "x2": {"datum": 278.9},
            "y": {"field": "p", "type": "quantitative", "scale": {"domain": [1.76948, 1.8033], "nice": false, "zero": false}, "axis": {"orient": "right", "offset": -105, "values": [1.77, 1.775, 1.78, 1.785, 1.79, 1.795], "format": ".5f", "title": null, "grid": false, "ticks": false, "domain": true, "domainColor": "#50535e", "labelPadding": 16, "labelFontSize": 19, "labelColor": "#4a4d57", "labelBaseline": "middle", "labelAlign": "left"}},
            "color": {"condition": {"test": "datum.p > 1.792", "value": "#363a45"}, "value": "#000000"}
          }
        },
        {
          "data": {"name": "fib"},
          "mark": {"type": "text", "align": "right", "baseline": "middle", "dy": -19, "fontSize": 16},
          "encoding": {
            "x": {"datum": 276.2, "type": "quantitative", "scale": {"domain": [-0.2, 300.5], "nice": false, "zero": false}, "axis": null},
            "y": {"field": "p", "type": "quantitative", "scale": {"domain": [1.76948, 1.8033], "nice": false, "zero": false}, "axis": {"orient": "right", "offset": -105, "values": [1.77, 1.775, 1.78, 1.785, 1.79, 1.795], "format": ".5f", "title": null, "grid": false, "ticks": false, "domain": true, "domainColor": "#50535e", "labelPadding": 16, "labelFontSize": 19, "labelColor": "#4a4d57", "labelBaseline": "middle", "labelAlign": "left"}},
            "text": {"field": "lbl"},
            "color": {"condition": {"test": "datum.p > 1.792", "value": "#434651"}, "value": "#131722"}
          }
        },
        {
          "data": {"values": [{}]},
          "mark": {"type": "rect", "color": "#f20a80", "cornerRadius": 2},
          "encoding": {
            "x": {"datum": 278.9, "type": "quantitative", "scale": {"domain": [-0.2, 300.5], "nice": false, "zero": false}, "axis": null},
            "x2": {"datum": 298.9},
            "y": {"datum": 1.78855, "type": "quantitative", "scale": {"domain": [1.76948, 1.8033], "nice": false, "zero": false}, "axis": {"orient": "right", "offset": -105, "values": [1.77, 1.775, 1.78, 1.785, 1.79, 1.795], "format": ".5f", "title": null, "grid": false, "ticks": false, "domain": true, "domainColor": "#50535e", "labelPadding": 16, "labelFontSize": 19, "labelColor": "#4a4d57", "labelBaseline": "middle", "labelAlign": "left"}},
            "y2": {"datum": 1.78599}
          }
        },
        {
          "data": {"name": "last"},
          "mark": {"type": "text", "align": "left", "baseline": "middle", "fontSize": 19, "fontWeight": "bold", "color": "#ffffff"},
          "encoding": {
            "x": {"datum": 282.2, "type": "quantitative", "scale": {"domain": [-0.2, 300.5], "nice": false, "zero": false}, "axis": null},
            "y": {"field": "p", "type": "quantitative", "scale": {"domain": [1.76948, 1.8033], "nice": false, "zero": false}, "axis": {"orient": "right", "offset": -105, "values": [1.77, 1.775, 1.78, 1.785, 1.79, 1.795], "format": ".5f", "title": null, "grid": false, "ticks": false, "domain": true, "domainColor": "#50535e", "labelPadding": 16, "labelFontSize": 19, "labelColor": "#4a4d57", "labelBaseline": "middle", "labelAlign": "left"}},
            "text": {"field": "p", "type": "quantitative", "format": ".5f"}
          }
        },
        {
          "data": {"values": [{}]},
          "mark": {"type": "rect", "fill": "#ffffff", "stroke": "#e0e3eb", "strokeWidth": 1, "cornerRadius": 6},
          "encoding": {
            "x": {"datum": 280.3, "type": "quantitative", "scale": {"domain": [-0.2, 300.5], "nice": false, "zero": false}, "axis": null},
            "x2": {"datum": 298.9},
            "y": {"datum": 1.80268, "type": "quantitative", "scale": {"domain": [1.76948, 1.8033], "nice": false, "zero": false}, "axis": {"orient": "right", "offset": -105, "values": [1.77, 1.775, 1.78, 1.785, 1.79, 1.795], "format": ".5f", "title": null, "grid": false, "ticks": false, "domain": true, "domainColor": "#50535e", "labelPadding": 16, "labelFontSize": 19, "labelColor": "#4a4d57", "labelBaseline": "middle", "labelAlign": "left"}},
            "y2": {"datum": 1.79959}
          }
        },
        {
          "data": {"values": [{"lbl": "AUD"}]},
          "mark": {"type": "text", "align": "left", "baseline": "middle", "fontSize": 16, "color": "#131722"},
          "encoding": {
            "x": {"datum": 282.8, "type": "quantitative", "scale": {"domain": [-0.2, 300.5], "nice": false, "zero": false}, "axis": null},
            "y": {"datum": 1.80113, "type": "quantitative", "scale": {"domain": [1.76948, 1.8033], "nice": false, "zero": false}, "axis": {"orient": "right", "offset": -105, "values": [1.77, 1.775, 1.78, 1.785, 1.79, 1.795], "format": ".5f", "title": null, "grid": false, "ticks": false, "domain": true, "domainColor": "#50535e", "labelPadding": 16, "labelFontSize": 19, "labelColor": "#4a4d57", "labelBaseline": "middle", "labelAlign": "left"}},
            "text": {"field": "lbl"}
          }
        }
      ]
    },
    {
      "width": 1460,
      "height": 132,
      "layer": [
        {
          "data": {"values": [{}]},
          "mark": {"type": "rect", "color": "#e9d2fc"},
          "encoding": {
            "x": {"datum": -0.2, "type": "quantitative", "scale": {"domain": [-0.2, 300.5], "nice": false, "zero": false}, "axis": null},
            "x2": {"datum": 278.9},
            "y": {"datum": 20, "type": "quantitative", "scale": {"domain": [-9.9, 109], "nice": false, "zero": false}, "axis": {"orient": "right", "offset": -105, "values": [0, 50, 100], "format": ".2f", "title": null, "grid": false, "ticks": false, "domain": true, "domainColor": "#50535e", "labelPadding": 16, "labelFontSize": 19, "labelColor": "#4a4d57", "labelBaseline": "middle", "labelAlign": "left"}},
            "y2": {"datum": 80}
          }
        },
        {
          "data": {"values": [{"v": 20}, {"v": 80}]},
          "mark": {"type": "rule", "color": "#787b86", "strokeWidth": 1, "strokeDash": [5, 4]},
          "encoding": {
            "x": {"datum": -0.2, "type": "quantitative", "scale": {"domain": [-0.2, 300.5], "nice": false, "zero": false}, "axis": null},
            "x2": {"datum": 278.9},
            "y": {"field": "v", "type": "quantitative", "scale": {"domain": [-9.9, 109], "nice": false, "zero": false}, "axis": {"orient": "right", "offset": -105, "values": [0, 50, 100], "format": ".2f", "title": null, "grid": false, "ticks": false, "domain": true, "domainColor": "#50535e", "labelPadding": 16, "labelFontSize": 19, "labelColor": "#4a4d57", "labelBaseline": "middle", "labelAlign": "left"}}
          }
        },
        {
          "data": {"name": "c"},
          "mark": {"type": "line", "color": "#2196f3", "strokeWidth": 1.6},
          "encoding": {
            "x": {"field": "i", "type": "quantitative", "scale": {"domain": [-0.2, 300.5], "nice": false, "zero": false}, "axis": null},
            "y": {"field": "k", "type": "quantitative", "scale": {"domain": [-9.9, 109], "nice": false, "zero": false}, "axis": {"orient": "right", "offset": -105, "values": [0, 50, 100], "format": ".2f", "title": null, "grid": false, "ticks": false, "domain": true, "domainColor": "#50535e", "labelPadding": 16, "labelFontSize": 19, "labelColor": "#4a4d57", "labelBaseline": "middle", "labelAlign": "left"}}
          }
        },
        {
          "data": {"name": "c"},
          "mark": {"type": "line", "color": "#ff6d00", "strokeWidth": 1.6},
          "encoding": {
            "x": {"field": "i", "type": "quantitative", "scale": {"domain": [-0.2, 300.5], "nice": false, "zero": false}, "axis": null},
            "y": {"field": "d", "type": "quantitative", "scale": {"domain": [-9.9, 109], "nice": false, "zero": false}, "axis": {"orient": "right", "offset": -105, "values": [0, 50, 100], "format": ".2f", "title": null, "grid": false, "ticks": false, "domain": true, "domainColor": "#50535e", "labelPadding": 16, "labelFontSize": 19, "labelColor": "#4a4d57", "labelBaseline": "middle", "labelAlign": "left"}}
          }
        }
      ]
    },
    {
      "width": 1460,
      "height": 128,
      "layer": [
        {
          "data": {"values": [{}]},
          "mark": {"type": "rect", "color": "#f3e6fd"},
          "encoding": {
            "x": {"datum": -0.2, "type": "quantitative", "scale": {"domain": [-0.2, 300.5], "nice": false, "zero": false}, "axis": {"orient": "bottom", "values": [12, 36, 60, 84, 108, 132, 156, 180, 204, 228, 252, 276], "labelExpr": "['11','14','15','16','17','18','21','22','23','24','25','28'][round((datum.value-12)/24)]", "title": null, "grid": false, "ticks": false, "domain": true, "domainColor": "#50535e", "labelPadding": 24, "labelBaseline": "middle", "labelFontSize": 17, "labelColor": "#4a4d57", "labelFlush": false, "labelFontWeight": {"condition": {"test": "datum.value == 36 || datum.value == 156", "value": "bold"}, "value": "normal"}}},
            "x2": {"datum": 278.9},
            "y": {"datum": 30, "type": "quantitative", "scale": {"domain": [10.75, 87.16], "nice": false, "zero": false}, "axis": {"orient": "right", "offset": -105, "values": [40, 80], "format": ".2f", "title": null, "grid": false, "ticks": false, "domain": true, "domainColor": "#50535e", "labelPadding": 16, "labelFontSize": 19, "labelColor": "#4a4d57", "labelBaseline": "middle", "labelAlign": "left"}},
            "y2": {"datum": 70}
          }
        },
        {
          "data": {"values": [{"v": 30}, {"v": 70}]},
          "mark": {"type": "rule", "color": "#b2b5be", "strokeWidth": 1, "strokeDash": [5, 4]},
          "encoding": {
            "x": {"datum": -0.2, "type": "quantitative", "scale": {"domain": [-0.2, 300.5], "nice": false, "zero": false}, "axis": {"orient": "bottom", "values": [12, 36, 60, 84, 108, 132, 156, 180, 204, 228, 252, 276], "labelExpr": "['11','14','15','16','17','18','21','22','23','24','25','28'][round((datum.value-12)/24)]", "title": null, "grid": false, "ticks": false, "domain": true, "domainColor": "#50535e", "labelPadding": 24, "labelBaseline": "middle", "labelFontSize": 17, "labelColor": "#4a4d57", "labelFlush": false, "labelFontWeight": {"condition": {"test": "datum.value == 36 || datum.value == 156", "value": "bold"}, "value": "normal"}}},
            "x2": {"datum": 278.9},
            "y": {"field": "v", "type": "quantitative", "scale": {"domain": [10.75, 87.16], "nice": false, "zero": false}, "axis": {"orient": "right", "offset": -105, "values": [40, 80], "format": ".2f", "title": null, "grid": false, "ticks": false, "domain": true, "domainColor": "#50535e", "labelPadding": 16, "labelFontSize": 19, "labelColor": "#4a4d57", "labelBaseline": "middle", "labelAlign": "left"}}
          }
        },
        {
          "data": {"name": "c"},
          "mark": {"type": "line", "color": "#8c24a8", "strokeWidth": 1.6},
          "encoding": {
            "x": {"field": "i", "type": "quantitative", "scale": {"domain": [-0.2, 300.5], "nice": false, "zero": false}, "axis": {"orient": "bottom", "values": [12, 36, 60, 84, 108, 132, 156, 180, 204, 228, 252, 276], "labelExpr": "['11','14','15','16','17','18','21','22','23','24','25','28'][round((datum.value-12)/24)]", "title": null, "grid": false, "ticks": false, "domain": true, "domainColor": "#50535e", "labelPadding": 24, "labelBaseline": "middle", "labelFontSize": 17, "labelColor": "#4a4d57", "labelFlush": false, "labelFontWeight": {"condition": {"test": "datum.value == 36 || datum.value == 156", "value": "bold"}, "value": "normal"}}},
            "y": {"field": "r", "type": "quantitative", "scale": {"domain": [10.75, 87.16], "nice": false, "zero": false}, "axis": {"orient": "right", "offset": -105, "values": [40, 80], "format": ".2f", "title": null, "grid": false, "ticks": false, "domain": true, "domainColor": "#50535e", "labelPadding": 16, "labelFontSize": 19, "labelColor": "#4a4d57", "labelBaseline": "middle", "labelAlign": "left"}}
          }
        }
      ]
    },
    {
      "width": 1460,
      "height": 49,
      "data": {"values": [{}]},
      "mark": {"type": "rule", "color": "#50535e", "strokeWidth": 1},
      "encoding": {
        "x": {"datum": 278.9, "type": "quantitative", "scale": {"domain": [-0.2, 300.5], "nice": false, "zero": false}, "axis": null}
      }
    }
  ],
  "config": {
    "view": {"stroke": "#e0e3eb"},
    "axis": {"labelFont": "Liberation Sans"},
    "text": {"font": "Liberation Sans"}
  }
}
